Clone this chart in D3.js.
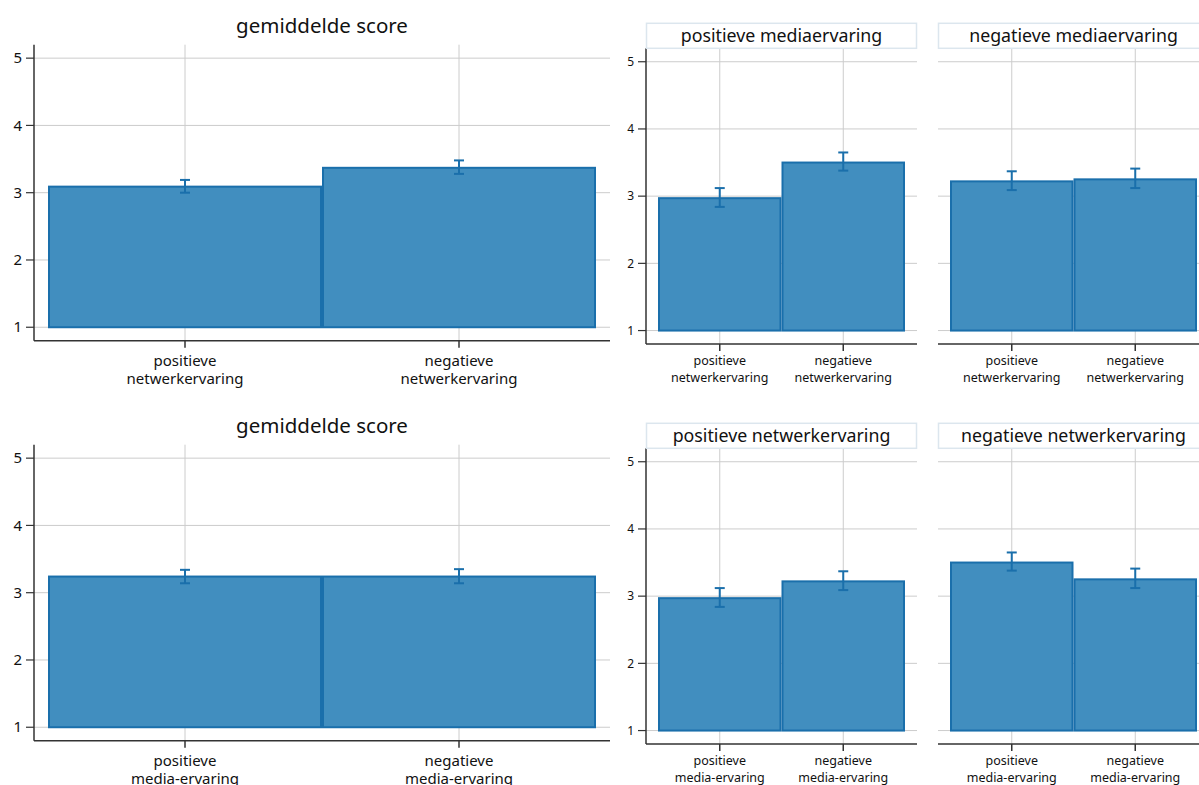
<!DOCTYPE html>
<html>
<head>
<meta charset="utf-8">
<script src="https://cdn.jsdelivr.net/npm/d3@7"></script>
<style>
  body { margin: 0; background: #fff; }
  svg { display: block; font-family: "Noto Sans", sans-serif; }
</style>
</head>
<body>
<svg id="chart" width="1199" height="785"></svg>
<script>
// categories
const netCats = ['positieve|netwerkervaring', 'negatieve|netwerkervaring'];
const mediaCats = ['positieve|media-ervaring', 'negatieve|media-ervaring'];
const mediaPanels = ['positieve mediaervaring', 'negatieve mediaervaring'];
const netPanels = ['positieve netwerkervaring', 'negatieve netwerkervaring'];
const yTicks = [1, 2, 3, 4, 5];

// gemiddelde score per netwerkervaring
const netMean = [3.09, 3.37];
const netLo = [3.00, 3.28];
const netHi = [3.19, 3.48];

// gemiddelde score per media-ervaring
const mediaMean = [3.24, 3.24];
const mediaLo = [3.14, 3.14];
const mediaHi = [3.34, 3.35];

// cross table: [media][net]
const crossMean = [[2.97, 3.50], [3.22, 3.25]];
const crossLo = [[2.84, 3.38], [3.09, 3.12]];
const crossHi = [[3.12, 3.65], [3.37, 3.41]];

const barFill = '#418ebf';
const barStroke = '#1a6fab';
const gridColor = '#cccccc';
const axisColor = '#333333';

const svg = d3.select('#chart');

function drawPanel(o) {
    const g = svg.append('g');

    const y = d3.scaleLinear()
        .domain([0.8, 5.2])
        .range([o.y1, o.y0]);

    const x = d3.scaleBand()
        .domain(d3.range(o.cats.length))
        .range([o.x0 + o.pad, o.x1 - o.pad])
        .padding(0);

    // grid
    g.selectAll('.hgrid')
        .data(yTicks)
        .enter()
        .append('line')
        .attr('x1', o.x0)
        .attr('x2', o.x1)
        .attr('y1', (d) => y(d))
        .attr('y2', (d) => y(d))
        .style('stroke', gridColor)
        .style('stroke-width', 1);

    g.selectAll('.vgrid')
        .data(o.cats)
        .enter()
        .append('line')
        .attr('x1', (d, i) => x(i) + x.bandwidth() / 2)
        .attr('x2', (d, i) => x(i) + x.bandwidth() / 2)
        .attr('y1', o.y0)
        .attr('y2', o.y1)
        .style('stroke', gridColor)
        .style('stroke-width', 1);

    // bars
    g.selectAll('.bar')
        .data(o.mean)
        .enter()
        .append('rect')
        .attr('x', (d, i) => x(i) + 1)
        .attr('width', x.bandwidth() - 2)
        .attr('y', (d) => y(d))
        .attr('height', (d) => y(1) - y(d))
        .style('fill', barFill)
        .style('stroke', barStroke)
        .style('stroke-width', 2);

    // error bars
    const cap = 5;
    o.mean.forEach((m, i) => {
        const cx = x(i) + x.bandwidth() / 2;
        g.append('line')
            .attr('x1', cx).attr('x2', cx)
            .attr('y1', y(o.lo[i])).attr('y2', y(o.hi[i]))
            .style('stroke', barStroke).style('stroke-width', 2);
        [o.lo[i], o.hi[i]].forEach((v) => {
            g.append('line')
                .attr('x1', cx - cap).attr('x2', cx + cap)
                .attr('y1', y(v)).attr('y2', y(v))
                .style('stroke', barStroke).style('stroke-width', 2);
        });
    });

    // x axis
    const xa = g.append('g')
        .attr('transform', `translate(0,${o.y1})`);
    xa.append('line')
        .attr('x1', o.x0).attr('x2', o.x1)
        .style('stroke', axisColor).style('stroke-width', 1.5);
    o.cats.forEach((c, i) => {
        const cx = x(i) + x.bandwidth() / 2;
        xa.append('line')
            .attr('x1', cx).attr('x2', cx)
            .attr('y1', 0).attr('y2', 7)
            .style('stroke', axisColor).style('stroke-width', 1.5);
        const t = xa.append('text')
            .style('text-anchor', 'middle')
            .style('font-size', `${o.xFont}px`)
            .style('fill', '#111');
        c.split('|').forEach((line, k) => {
            t.append('tspan')
                .attr('x', cx)
                .attr('y', o.xLab + k * o.xLine)
                .text(line);
        });
    });

    // y axis
    if (o.yAxis) {
        g.append('line')
            .attr('x1', o.x0).attr('x2', o.x0)
            .attr('y1', o.y0).attr('y2', o.y1)
            .style('stroke', axisColor).style('stroke-width', 1.5);
        g.selectAll('.ytick')
            .data(yTicks)
            .enter()
            .append('line')
            .attr('x1', o.x0 - 8).attr('x2', o.x0)
            .attr('y1', (d) => y(d)).attr('y2', (d) => y(d))
            .style('stroke', axisColor).style('stroke-width', 1.2);
        g.selectAll('.ylab')
            .data(yTicks)
            .enter()
            .append('text')
            .attr('x', o.x0 - 12)
            .attr('y', (d) => y(d))
            .attr('dy', '0.35em')
            .style('text-anchor', 'end')
            .style('font-size', `${o.yFont}px`)
            .style('fill', '#111')
            .text((d) => d);
    }

    // title
    if (o.strip) {
        g.append('rect')
            .attr('x', o.x0 + 0.5).attr('y', o.y0 - 25)
            .attr('width', o.x1 - o.x0 - 1).attr('height', 25)
            .style('fill', '#fff')
            .style('stroke', '#dce6ee')
            .style('stroke-width', 1.5);
        g.append('text')
            .attr('x', (o.x0 + o.x1) / 2)
            .attr('y', o.y0 - 6)
            .style('text-anchor', 'middle')
            .style('font-size', '17.8px')
            .style('fill', '#111')
            .text(o.title);
    } else {
        g.append('text')
            .attr('x', (o.x0 + o.x1) / 2)
            .attr('y', o.y0 - 12)
            .style('text-anchor', 'middle')
            .style('font-size', '20.5px')
            .style('fill', '#111')
            .text(o.title);
    }
}

[0, 1].forEach((row) => {
    const dy = row * 400;
    const cats = row === 0 ? netCats : mediaCats;

    drawPanel({
        x0: 34, x1: 610, y0: 44.7 + dy, y1: 340.7 + dy, pad: 14,
        cats: cats,
        mean: row === 0 ? netMean : mediaMean,
        lo: row === 0 ? netLo : mediaLo,
        hi: row === 0 ? netHi : mediaHi,
        yAxis: true, yFont: 15, xFont: 15, xLab: 25, xLine: 18,
        strip: false, title: 'gemiddelde score',
    });

    [0, 1].forEach((p) => {
        const x0 = 646 + p * 292;
        const pick = (m) => (row === 0
            ? [m[p][0], m[p][1]]
            : [m[0][p], m[1][p]]);
        drawPanel({
            x0: x0, x1: x0 + 271, y0: 48.3 + dy, y1: 344 + dy, pad: 12,
            cats: cats,
            mean: pick(crossMean),
            lo: pick(crossLo),
            hi: pick(crossHi),
            yAxis: p === 0, yFont: 12, xFont: 12.5, xLab: 21, xLine: 16.5,
            strip: true, title: row === 0 ? mediaPanels[p] : netPanels[p],
        });
    });
});
</script>
</body>
</html>
